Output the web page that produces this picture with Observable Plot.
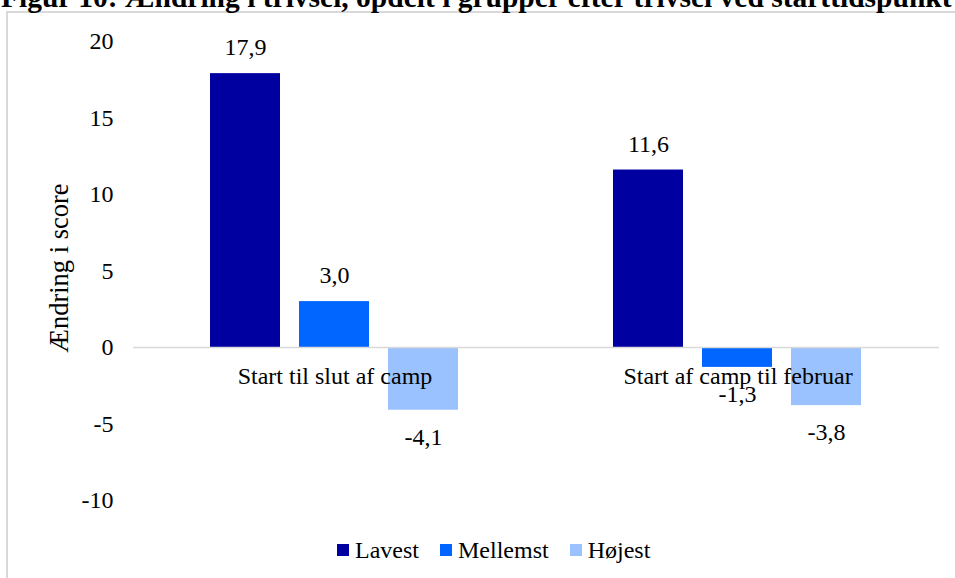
<!DOCTYPE html>
<html>
<head>
<meta charset="utf-8">
<script src="https://cdn.jsdelivr.net/npm/d3@7"></script>
<script src="https://cdn.jsdelivr.net/npm/@observablehq/plot@0.6"></script>
<style>
  html, body { margin: 0; padding: 0; background: #fff; }
  body { position: relative; width: 955px; height: 578px; overflow: hidden;
         font-family: "Liberation Serif", "Times New Roman", serif; color: #000; }
  #frame { position: absolute; left: 6px; top: 11px; width: 1200px; height: 800px;
           border-left: 2px solid #d9d9d9; border-top: 2px solid #d9d9d9; }
  #title { position: absolute; left: 1px; top: -17px; font-weight: bold; font-size: 29.5px;
           line-height: 1; white-space: nowrap; }
  #chart { position: absolute; left: 0; top: 0; }
  #legend { position: absolute; left: 337px; top: 538px; height: 24px; line-height: 24px;
            font-size: 24px; display: flex; align-items: center; white-space: nowrap; }
  .item { display: flex; align-items: center; margin-right: 21px; }
  .sw { display: inline-block; width: 12px; height: 12px; margin-right: 6px; }
</style>
</head>
<body>
<div id="frame"></div>
<div id="title"></div>
<div id="chart"></div>
<div id="legend"></div>
<script>
const titleText = "Figur 10: Ændring i trivsel, opdelt i grupper efter trivsel ved starttidspunkt";
const yLabel = "Ændring i score";
const groups = ["Start til slut af camp", "Start af camp til februar"];
const series = ["Lavest", "Mellemst", "Højest"];
const lavest = [17.9, 11.6];
const mellemst = [3.0, -1.3];
const hojest = [-4.1, -3.8];
const colors = ["#0000a0", "#0066ff", "#99c2ff"];
const yTicks = [-10, -5, 0, 5, 10, 15, 20];

const values = [lavest, mellemst, hojest];
const rows = [];
groups.forEach((g, gi) => series.forEach((s, si) => rows.push({group: g, series: s, value: values[si][gi]})));
const fmt = v => v.toFixed(1).replace(".", ",");

document.getElementById("title").textContent = titleText;

const chart = Plot.plot({
  width: 955,
  height: 530,
  marginLeft: 132,
  marginRight: 16,
  marginTop: 41,
  marginBottom: 30,
  style: {fontFamily: "'Liberation Serif', 'Times New Roman', serif", fontSize: "24px", color: "#000", background: "transparent", overflow: "visible"},
  fx: {domain: groups, padding: 0, axis: null, label: null},
  x: {domain: series, paddingInner: 0.211, paddingOuter: 0.847, axis: null, label: null},
  y: {domain: [-10, 20], ticks: yTicks, tickFormat: d => String(d), tickSize: 0, tickPadding: 20, label: null},
  color: {domain: series, range: colors},
  marks: [
    Plot.barY(rows, {fx: "group", x: "series", y: "value", fill: "series"}),
    Plot.ruleY([0], {stroke: "#d9d9d9", strokeWidth: 1.5}),
    Plot.text(rows.filter(d => d.value >= 0), {fx: "group", x: "series", y: "value", text: d => fmt(d.value), dy: -26, fill: "#000"}),
    Plot.text(rows.filter(d => d.value < 0), {fx: "group", x: "series", y: "value", text: d => fmt(d.value), dy: 27, fill: "#000"}),
    Plot.text(groups, {fx: d => d, y: 0, text: d => d, dy: 29, fill: "#000"}),
    Plot.text([{fx: groups[0], t: yLabel}], {fx: "fx", text: "t", frameAnchor: "left", textAnchor: "middle", dx: -73.5, dy: -3, rotate: -90, fontSize: 26.5, fill: "#000"})
  ]
});
document.getElementById("chart").appendChild(chart);

const legend = document.getElementById("legend");
series.forEach((s, i) => {
  const item = document.createElement("span");
  item.className = "item";
  const sw = document.createElement("span");
  sw.className = "sw";
  sw.style.background = colors[i];
  item.appendChild(sw);
  item.appendChild(document.createTextNode(s));
  legend.appendChild(item);
});
</script>
</body>
</html>
